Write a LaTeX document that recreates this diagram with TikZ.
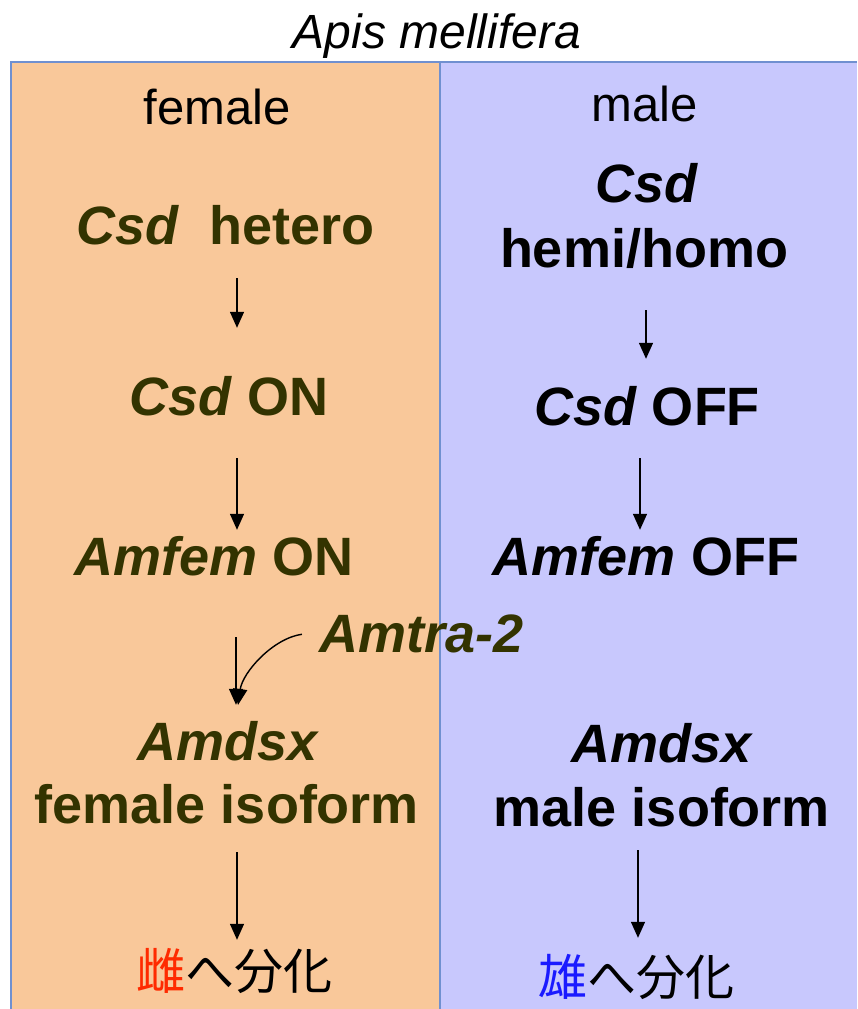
\documentclass[tikz,border=0pt]{standalone}
\usepackage{fontspec}
\setmainfont{Liberation Sans}
\newfontfamily\cjkfont{Noto Sans CJK JP}
\usetikzlibrary{arrows.meta}
\definecolor{fembg}{HTML}{F9C89A}
\definecolor{malebg}{HTML}{C8C8FD}
\definecolor{frameblue}{HTML}{7090D0}
\definecolor{olive}{HTML}{333300}
\definecolor{femred}{HTML}{FF2A00}
\definecolor{maleblue}{HTML}{1A1AFF}
\tikzset{
  lbl/.style={anchor=base, inner sep=0pt, text depth=0pt},
  big/.style={lbl, text height=40.5pt, font=\fontsize{54}{60}\selectfont\bfseries},
  fbig/.style={big, text=olive},
  mbig/.style={big, text=black},
  head/.style={lbl, text height=36.75pt, font=\fontsize{49}{55}\selectfont},
  jp/.style={lbl, text height=37.5pt, font=\fontsize{49}{55}\selectfont\cjkfont},
  arr/.style={line width=1.4pt, -{Triangle[length=16pt,width=14pt]}},
  frame/.style={draw=frameblue, line width=2pt}
}
\newcommand{\gn}[1]{\textit{#1}}
\begin{document}
\begin{tikzpicture}[x=1pt,y=-1pt]
\useasboundingbox (0,0) rectangle (857,1009);
% backgrounds
\fill[fembg] (11,62) rectangle (440,1009);
\fill[malebg] (440,62) rectangle (857,1009);
\draw[frame] (11,1009) -- (11,62) -- (857,62);
\draw[frame] (440,62) -- (440,1009);
% title
\node[lbl, text height=36pt, font=\fontsize{48}{54}\selectfont\itshape] (title) at (437,48) {Apis mellifera};
% headers
\node[head] (fhead) at (217,124) {female};
\node[head] (mhead) at (645,121) {male};
% female column
\node[fbig] (fhet) at (225.5,244) {\gn{Csd}\ \ hetero};
\node[fbig] (fcsdon) at (229,415) {\gn{Csd} ON};
\node[fbig] (famfem) at (214,575) {\gn{Amfem} ON};
\node[fbig] (amtra) at (422,652) {\gn{Amtra-2}};
\node[fbig] (fdsx) at (228,760) {\gn{Amdsx}};
\node[fbig] (fiso) at (227,823) {female isoform};
\node[jp] (fcjk) at (234,989) {\textcolor{femred}{雌}へ分化};
% male column
\node[mbig] (mcsd) at (647,202) {\gn{Csd}};
\node[mbig] (mhemi) at (644,267) {hemi/homo};
\node[mbig] (mcsdoff) at (647,425) {\gn{Csd} OFF};
\node[mbig] (mamfem) at (646,575) {\gn{Amfem} OFF};
\node[mbig] (mdsx) at (662,762) {\gn{Amdsx}};
\node[mbig] (miso) at (662,826) {male isoform};
\node[jp] (mcjk) at (636,995) {\textcolor{maleblue}{雄}へ分化};
% arrow columns
\coordinate (fx) at (237,0);
\coordinate (fx3) at (236,0);
\coordinate (mx1) at (646,0);
\coordinate (mx2) at (640,0);
\coordinate (mx4) at (638,0);
% female arrows
\draw[arr, shorten <=34pt, shorten >=46.5pt] (fhet.south -| fx) -- (fcsdon.north -| fx);
\draw[arr, shorten <=43pt, shorten >=4.5pt] (fcsdon.south -| fx) -- (famfem.north -| fx);
\draw[arr, shorten <=62pt, shorten >=14.5pt] (famfem.south -| fx3) -- (fdsx.north -| fx3);
\draw[arr, shorten <=18pt, shorten >=14.5pt] (amtra.west) to[out=188,in=82] (fdsx.north -| fx3);
\draw[arr, shorten <=29pt, shorten >=11.5pt] (fiso.south -| fx) -- (fcjk.north -| fx);
% male arrows
\draw[arr, shorten <=43pt, shorten >=25.5pt] (mhemi.south -| mx1) -- (mcsdoff.north -| mx1);
\draw[arr, shorten <=33pt, shorten >=4.5pt] (mcsdoff.south -| mx2) -- (mamfem.north -| mx2);
\draw[arr, shorten <=24pt, shorten >=19.5pt] (miso.south -| mx4) -- (mcjk.north -| mx4);
\end{tikzpicture}
\end{document}
